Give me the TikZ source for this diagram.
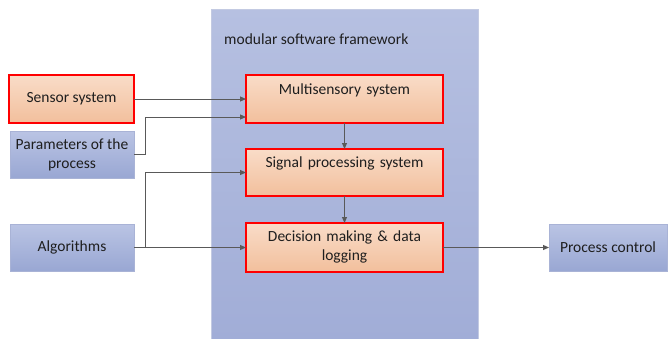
\documentclass[tikz,border=0pt]{standalone}
\usepackage{fontspec}
\setmainfont{Carlito}
\usetikzlibrary{arrows.meta,shadows}
\definecolor{fwtop}{HTML}{B6C0E1}
\definecolor{fwbot}{HTML}{A1ADD7}
\definecolor{bluetop}{HTML}{BAC4E4}
\definecolor{bluebot}{HTML}{99A7D3}
\definecolor{blueedge}{HTML}{A9B3D6}
\definecolor{orangetop}{HTML}{F9DCC8}
\definecolor{orangebot}{HTML}{F2BF9C}
\definecolor{redline}{HTML}{FF0000}
\definecolor{linegray}{HTML}{595959}
\definecolor{textdark}{HTML}{1E1E1E}
\begin{document}
\begin{tikzpicture}[x=1pt,y=-1pt,
  font=\fontsize{15.5}{19}\selectfont, text=textdark,
  framebox/.style={rectangle, inner sep=0pt, outer sep=0pt,
    top color=fwtop, bottom color=fwbot, draw=blueedge!70!white, line width=0.6pt},
  bluebox/.style={rectangle, inner sep=0pt, outer sep=0pt, align=center,
    top color=bluetop, bottom color=bluebot, draw=blueedge, line width=0.6pt,
    drop shadow={shadow xshift=1.2pt, shadow yshift=-1.2pt, fill=black, opacity=0.18}},
  orangebox/.style={rectangle, inner sep=0pt, outer sep=0pt,
    top color=orangetop, bottom color=orangebot, draw=redline, line width=2pt},
  redbox/.style={orangebox, align=center},
  boxtext/.style={text width=190pt, align=center, inner sep=0pt, anchor=base},
  conn/.style={draw=linegray, line width=1pt, -{Triangle[length=6pt,width=5pt]}}]
\useasboundingbox (0,0) rectangle (668,338);

% framework container
\node[framebox, minimum width=267pt, minimum height=331pt] (fw) at (344.5,174.5) {};
\node[anchor=base west, inner sep=0pt] (fwlabel) at (224,44) {modular software framework};

% inputs and output
\node[redbox, minimum width=125pt, minimum height=48pt] (sensor) at (71.5,99) {Sensor system};
\node[bluebox, minimum width=124pt, minimum height=47pt] (params) at (72,154.5) {Parameters of the\\process};
\node[bluebox, minimum width=124pt, minimum height=47pt] (algo) at (72,247.5) {Algorithms};
\node[bluebox, minimum width=118pt, minimum height=47pt] (pc) at (608,247.5) {Process control};

% processing chain
\node[orangebox, minimum width=197pt, minimum height=48pt] (ms) at (344.5,99) {};
\node[orangebox, minimum width=197pt, minimum height=47pt] (sp) at (344.5,172.5) {};
\node[orangebox, minimum width=197pt, minimum height=49pt] (dm) at (344.5,247.5) {};
\node[boxtext] (mstext) at ([yshift=-19pt]ms.north) {Multisensory system};
\node[boxtext] (sptext) at ([yshift=-18pt]sp.north) {Signal processing system};
\node[boxtext] (dmtext) at ([yshift=-18.5pt]dm.north) {Decision making \& data\\logging};

% connectors
\coordinate (split) at (145,247.5);
\draw[conn] (sensor.east) -- (ms.west);
\draw[conn] (params.east) -- ++(11,0) |- ([yshift=-18pt]ms.west);
\draw[conn] (algo.east) -- (dm.west);
\draw[conn] (split) |- (sp.west);
\draw[conn] (ms.south) -- (sp.north);
\draw[conn] (sp.south) -- (dm.north);
\draw[conn] (dm.east) -- (pc.west);
\end{tikzpicture}
\end{document}
